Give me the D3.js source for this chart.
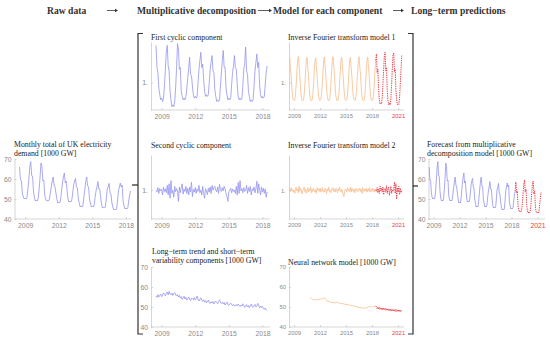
<!DOCTYPE html>
<html>
<head>
<meta charset="utf-8">
<script src="https://cdn.jsdelivr.net/npm/d3@7"></script>
<style>
body{margin:0;background:#fff;}
svg{display:block;}
.head{font-family:"Liberation Serif",serif;font-size:9.6px;font-weight:bold;fill:#333;}
.title{font-family:"Liberation Serif",serif;font-size:7.8px;fill:#222;}
.axis path,.axis line{stroke:#c4c4c4;stroke-width:0.7;}
.axis text{font-family:"Liberation Sans",Arial,sans-serif;fill:#8a8a8a;}
</style>
</head>
<body>
<script>
//column headers
var headTexts = ["Raw data", "Multiplicative decomposition", "Model for each component", "Long−term predictions"];

//tick labels
var yearLabels = ["2009", "2012", "2015", "2018"];
var yearLabelsFc = ["2009", "2012", "2015", "2018", "2021"];
var gwTicks = [40, 50, 60, 70];
var unitTicks = [1];

//monthly total of UK electricity demand [1000 GW], Jan 2009 - Dec 2018
var rawDemand = [
    66, 59.5, 59, 53, 51, 50, 50.5, 50, 51, 55, 60, 66,
    68.7, 62, 61, 53.5, 50.5, 49, 49.5, 49, 50.5, 55, 61, 68,
    66, 59, 59.5, 52, 50, 49, 49.5, 49, 50, 53, 56, 59,
    61, 57, 56, 53, 50, 48, 48.5, 48, 49.5, 54, 58, 61,
    63, 58, 59, 54, 50, 48.5, 49, 48.5, 49.5, 53, 57, 59,
    60.3, 56, 55.5, 50, 48, 46, 46.5, 46, 47, 51, 55, 59,
    61, 56.5, 56, 50, 48, 46, 46.5, 46, 47, 51, 54, 56,
    58.7, 55, 55, 50.5, 47, 45.5, 46, 45.5, 46, 50, 55, 56,
    57.8, 53, 52.5, 48, 46, 44.5, 45, 44.5, 45, 49, 54, 56,
    58, 56, 57, 49, 46.5, 45, 45.5, 45, 45.5, 49, 52, 54
];

//first cyclic component, Jan 2009 - Dec 2018
var cyclic1 = [
    1.22, 1.09, 1.06, 0.97, 0.93, 0.90, 0.91, 0.89, 0.91, 0.98, 1.08, 1.18,
    1.22, 1.10, 1.07, 0.95, 0.90, 0.86, 0.87, 0.86, 0.89, 0.97, 1.09, 1.23,
    1.20, 1.08, 1.09, 0.95, 0.92, 0.90, 0.91, 0.90, 0.92, 0.97, 1.03, 1.09,
    1.15, 1.05, 1.04, 0.98, 0.93, 0.91, 0.92, 0.91, 0.92, 1.00, 1.08, 1.13,
    1.18, 1.09, 1.11, 1.02, 0.95, 0.92, 0.93, 0.92, 0.93, 1.00, 1.08, 1.12,
    1.16, 1.07, 1.06, 0.96, 0.92, 0.89, 0.90, 0.89, 0.90, 0.98, 1.06, 1.13,
    1.19, 1.09, 1.09, 0.97, 0.93, 0.90, 0.91, 0.90, 0.91, 0.99, 1.06, 1.10,
    1.16, 1.09, 1.08, 0.99, 0.92, 0.90, 0.91, 0.90, 0.91, 0.98, 1.08, 1.11,
    1.21, 1.07, 1.05, 0.95, 0.92, 0.89, 0.90, 0.89, 0.90, 0.98, 1.07, 1.12,
    1.17, 1.09, 1.12, 0.98, 0.93, 0.91, 0.92, 0.91, 0.92, 0.99, 1.06, 1.10
];

//second cyclic component, Jan 2009 - Dec 2018
var cyclic2 = [
    1.000, 0.995, 1.008, 0.990, 1.005, 0.998, 1.002, 0.985, 1.010, 0.996, 1.004, 0.992,
    1.015, 0.985, 1.020, 0.975, 1.030, 0.990, 1.000, 0.978, 1.012, 0.995, 1.005, 0.998,
    0.965, 1.010, 0.992, 1.008, 1.020, 0.988, 1.004, 0.996, 1.012, 0.990, 1.006, 0.985,
    1.010, 0.995, 1.025, 0.980, 1.002, 0.994, 1.008, 0.990, 1.004, 0.996, 1.015, 0.992,
    1.000, 0.985, 1.012, 0.990, 0.975, 1.005, 0.998, 0.986, 1.006, 0.994, 1.010, 0.990,
    1.015, 1.000, 1.008, 1.012, 1.000, 0.995, 1.010, 0.990, 1.018, 1.002, 0.996, 1.008,
    0.998, 1.012, 1.004, 0.990, 0.980, 0.965, 0.995, 1.000, 1.006, 0.992, 1.004, 0.996,
    1.000, 0.990, 1.012, 0.985, 1.024, 0.990, 1.030, 0.998, 1.005, 0.992, 1.008, 0.996,
    1.000, 1.015, 0.990, 1.008, 0.996, 1.012, 0.985, 1.004, 0.998, 1.010, 0.992, 1.005,
    1.028, 0.990, 1.020, 1.000, 0.985, 1.010, 0.994, 1.006, 0.990, 1.004, 0.978, 0.995
];

//long-term trend and short-term variability [1000 GW], Jan 2009 - Dec 2018
var trend = [
    55.5, 54.8, 56.2, 55.0, 55.8, 56.5, 55.2, 56.0, 57.0, 56.3, 55.5, 56.8,
    57.5, 56.0, 57.8, 56.5, 56.2, 57.0, 55.8, 56.6, 57.2, 56.0, 55.5, 56.3,
    55.0, 55.8, 54.5, 55.2, 53.8, 54.6, 55.4, 54.0, 54.8, 53.5, 54.2, 54.9,
    54.0, 53.2, 54.5, 54.0, 53.6, 54.8, 53.5, 54.2, 55.5, 54.0, 53.0, 53.8,
    54.6, 53.4, 52.8, 53.6, 52.5, 53.2, 52.0, 52.8, 53.5, 52.2, 51.8, 52.6,
    52.0, 52.8, 51.5, 52.4, 53.0, 52.2, 51.6, 52.5, 53.6, 52.8, 51.8, 52.3,
    51.5, 52.2, 51.0, 51.8, 52.5, 51.2, 50.8, 51.6, 52.0, 51.2, 50.6, 51.4,
    51.0, 50.4, 51.2, 50.6, 51.5, 50.8, 50.2, 51.0, 50.5, 51.6, 50.8, 49.8,
    50.6, 51.2, 50.0, 50.8, 49.6, 50.4, 51.5, 50.2, 49.8, 50.6, 51.3, 50.0,
    50.5, 51.8, 50.8, 49.6, 50.5, 49.8, 50.4, 49.2, 48.8, 49.5, 48.6, 48.2
];

//inverse Fourier transform model 1: fit Jan 2009 - Dec 2018, forecast Jan 2019 - Dec 2021
var fourier1Fit = [
    1.150, 1.090, 1.040, 0.970, 0.920, 0.900, 0.895, 0.900, 0.930, 0.990, 1.070, 1.130,
    1.155, 1.100, 1.045, 0.970, 0.920, 0.898, 0.893, 0.900, 0.928, 0.990, 1.070, 1.135,
    1.150, 1.095, 1.040, 0.968, 0.918, 0.897, 0.894, 0.899, 0.930, 0.992, 1.068, 1.130,
    1.148, 1.090, 1.038, 0.970, 0.921, 0.900, 0.896, 0.901, 0.931, 0.990, 1.066, 1.128,
    1.152, 1.094, 1.042, 0.972, 0.920, 0.899, 0.894, 0.900, 0.929, 0.991, 1.070, 1.133,
    1.154, 1.097, 1.044, 0.969, 0.919, 0.898, 0.893, 0.899, 0.930, 0.990, 1.069, 1.134,
    1.150, 1.092, 1.040, 0.970, 0.920, 0.900, 0.895, 0.900, 0.930, 0.990, 1.067, 1.130,
    1.149, 1.091, 1.039, 0.971, 0.921, 0.900, 0.896, 0.900, 0.931, 0.992, 1.068, 1.131,
    1.153, 1.095, 1.043, 0.970, 0.920, 0.899, 0.894, 0.899, 0.929, 0.990, 1.070, 1.133,
    1.151, 1.093, 1.041, 0.969, 0.919, 0.898, 0.895, 0.900, 0.930, 0.991, 1.069, 1.132
];
var fourier1Fc = [
    1.170, 1.060, 1.080, 0.960, 0.900, 0.875, 0.880, 0.875, 0.910, 0.990, 1.080, 1.160,
    1.180, 1.070, 1.090, 0.950, 0.895, 0.870, 0.880, 0.870, 0.905, 0.985, 1.085, 1.165,
    1.175, 1.065, 1.080, 0.955, 0.900, 0.872, 0.878, 0.873, 0.910, 0.990, 1.080, 1.160
];

//inverse Fourier transform model 2
var fourier2Fit = [
    1.004, 0.996, 1.008, 0.998, 1.002, 0.994, 1.000, 0.990, 1.006, 1.010, 0.998, 1.004,
    0.992, 1.012, 0.996, 1.006, 1.000, 0.988, 0.998, 1.004, 1.010, 0.996, 1.002, 0.990,
    1.000, 1.008, 0.994, 1.004, 0.998, 1.010, 0.992, 1.002, 0.996, 1.006, 1.000, 0.994,
    1.002, 0.990, 1.008, 1.000, 1.004, 0.996, 1.006, 0.994, 1.002, 1.008, 0.996, 1.000,
    0.994, 1.006, 1.000, 0.990, 1.004, 0.998, 1.010, 0.996, 1.000, 0.992, 1.004, 1.002,
    1.008, 0.996, 1.002, 0.994, 1.006, 1.000, 0.992, 1.004, 0.998, 1.010, 1.000, 0.994,
    1.002, 0.998, 0.986, 0.980, 0.996, 1.004, 1.000, 0.994, 1.008, 0.998, 1.002, 0.996,
    1.010, 0.994, 1.006, 1.000, 0.996, 1.004, 0.992, 1.002, 1.006, 0.998, 0.994, 1.004,
    1.000, 1.006, 0.996, 1.002, 0.990, 1.008, 1.000, 0.996, 1.004, 0.998, 1.006, 0.994,
    1.002, 0.998, 1.008, 0.994, 1.000, 1.004, 0.996, 1.006, 1.000, 0.994, 1.004, 1.000
];
var fourier2Fc = [
    0.996, 1.008, 0.992, 1.004, 0.990, 1.012, 0.998, 1.006, 0.994, 1.010, 0.986, 1.002,
    1.006, 0.994, 1.014, 0.990, 1.004, 1.010, 0.984, 0.998, 1.012, 0.990, 1.002, 0.996,
    1.004, 1.026, 0.990, 1.020, 0.972, 1.008, 0.994, 1.012, 0.986, 1.006, 0.992, 1.000
];

//neural network model [1000 GW]: fit May 2011 - Dec 2018, forecast Jan 2019 - Dec 2021
var nnFit = [
    55.0, 54.6, 54.2, 53.8, 53.6, 53.9, 53.5, 53.7,
    53.4, 53.8, 53.5, 53.9, 53.6, 54.0, 53.7, 54.1, 53.8, 54.3, 54.0, 54.4,
    54.6, 54.2, 53.8, 53.5, 53.0, 52.6, 52.9, 52.4, 52.7, 52.2, 52.5, 52.1,
    52.4, 52.0, 52.3, 51.9, 52.2, 52.5, 52.1, 52.4, 52.0, 51.7, 52.0, 51.6,
    51.9, 51.5, 51.8, 51.3, 51.6, 51.2, 51.5, 51.0, 51.3, 50.9, 51.2, 50.8,
    51.0, 50.6, 50.9, 50.5, 50.8, 50.3, 50.6, 50.1, 50.4, 49.9, 50.2, 49.7,
    50.0, 49.6, 49.8, 49.4, 49.7, 49.3, 49.6, 49.2, 49.5, 49.8, 49.4, 49.7,
    49.9, 50.2, 49.8, 50.1, 50.4, 50.0, 50.3, 49.9, 50.2, 50.5, 50.1, 50.4
];
var nnFc = [
    50.2, 49.2, 50.0, 49.0, 49.8, 48.8, 49.6, 48.7, 49.5, 48.6, 49.4, 48.5,
    49.3, 48.4, 49.2, 48.3, 49.1, 48.2, 49.0, 48.1, 48.9, 48.0, 48.8, 48.0,
    48.8, 47.9, 48.7, 47.8, 48.6, 47.8, 48.6, 47.7, 48.5, 47.7, 48.4, 47.6
];

//forecast from multiplicative decomposition model [1000 GW], Jan 2019 - Dec 2021
var demandFc = [
    58.5, 53, 54, 47, 44.5, 43.5, 44, 43.5, 44.5, 48, 53, 57.5,
    59.5, 53.5, 55, 47, 44, 43, 43.5, 43, 44, 48, 53, 58,
    59, 52.5, 54, 46.5, 43.5, 43, 43.5, 43, 44, 47.5, 51, 53.5
];

var blue = "#9494ef",
    orange = "#f7bd8c",
    red = "#ea3c45";

var svg = d3.select("body")
    .append("svg")
    .attr("width", 550)
    .attr("height", 344);

//attach a time (in years) to each monthly value
function monthly(startYear, startMonth, values){
    return values.map(function(v, i){
        return {t: startYear + (startMonth + i) / 12, v: v};
    });
};

//forecast line starts from last fitted point
function joinOn(base, next){
    return [base[base.length - 1]].concat(next);
};

var demandData = monthly(2009, 0, rawDemand);
var f1Data = monthly(2009, 0, fourier1Fit);
var f2Data = monthly(2009, 0, fourier2Fit);
var nnData = monthly(2011, 4, nnFit);

//panel layouts
var panels = [
    {left: 14.5, right: 131.5, x0: 2008.55, x1: 2019.0, top: 159, bottom: 219,
     yDomain: [40, 70], yTicks: gwTicks, years: yearLabels, fs: 6.8,
     title: ["Monthly total of UK electricity", "demand [1000 GW]"], tx: 14, ty: 146.5,
     series: [{data: demandData, color: blue}]},
    {left: 151, right: 270, x0: 2008.55, x1: 2019.175, top: 42, bottom: 110,
     yDomain: [0.84, 1.24], yTicks: unitTicks, years: yearLabels, fs: 6.8,
     title: ["First cyclic component"], tx: 151, ty: 39.5,
     series: [{data: monthly(2009, 0, cyclic1), color: blue}]},
    {left: 151, right: 270, x0: 2008.55, x1: 2019.175, top: 155, bottom: 219,
     yDomain: [0.91, 1.11], yTicks: unitTicks, years: yearLabels, fs: 6.8,
     title: ["Second cyclic component"], tx: 151, ty: 147.5,
     series: [{data: monthly(2009, 0, cyclic2), color: blue}]},
    {left: 151, right: 270, x0: 2008.55, x1: 2019.175, top: 267, bottom: 327,
     yDomain: [40, 70], yTicks: gwTicks, years: yearLabels, fs: 6.8,
     title: ["Long−term trend and short−term", "variability components [1000 GW]"], tx: 152, ty: 253.5,
     series: [{data: monthly(2009, 0, trend), color: blue}]},
    {left: 289, right: 404, x0: 2008.92, x1: 2022.18, top: 42, bottom: 110,
     yDomain: [0.84, 1.24], yTicks: unitTicks, years: yearLabelsFc, fs: 5.9,
     title: ["Inverse Fourier transform model 1"], tx: 288, ty: 39.5,
     series: [{data: f1Data, color: orange},
              {data: joinOn(f1Data, monthly(2019, 0, fourier1Fc)), color: red, dash: "1.3,1"}]},
    {left: 289, right: 404, x0: 2008.92, x1: 2022.18, top: 155, bottom: 219,
     yDomain: [0.91, 1.11], yTicks: unitTicks, years: yearLabelsFc, fs: 5.9,
     title: ["Inverse Fourier transform model 2"], tx: 288, ty: 147.5,
     series: [{data: f2Data, color: orange},
              {data: joinOn(f2Data, monthly(2019, 0, fourier2Fc)), color: red, dash: "1.3,1"}]},
    {left: 289, right: 404, x0: 2008.92, x1: 2022.18, top: 267, bottom: 327,
     yDomain: [40, 70], yTicks: gwTicks, years: yearLabelsFc, fs: 5.9,
     title: ["Neural network model [1000 GW]"], tx: 288, ty: 264.5,
     series: [{data: nnData, color: orange},
              {data: joinOn(nnData, monthly(2019, 0, nnFc)), color: red, dash: "1.3,0.8"}]},
    {left: 428.5, right: 545, x0: 2008.92, x1: 2022.36, top: 159, bottom: 219,
     yDomain: [40, 70], yTicks: gwTicks, years: yearLabelsFc, fs: 6.8,
     title: ["Forecast from multiplicative", "decomposition model [1000 GW]"], tx: 427, ty: 146.5,
     series: [{data: demandData, color: blue},
              {data: joinOn(demandData, monthly(2019, 0, demandFc)), color: red, dash: "1.3,1"}]}
];

panels.forEach(drawPanel);
drawFrame();

//draw one small line chart
function drawPanel(p){
    var x = d3.scaleLinear().domain([p.x0, p.x1]).range([p.left, p.right]);
    var y = d3.scaleLinear().domain(p.yDomain).range([p.bottom, p.top]);
    var g = svg.append("g");

    var yAxis = d3.axisLeft(y)
        .tickValues(p.yTicks)
        .tickFormat(function(d){ return d == 1 ? "1." : d; })
        .tickSizeInner(-2)
        .tickSizeOuter(0)
        .tickPadding(3);

    var xAxis = d3.axisBottom(x)
        .tickValues(p.years.map(function(l){ return +l + 0.5; }))
        .tickFormat(function(d){ return Math.floor(d); })
        .tickSizeInner(-2)
        .tickSizeOuter(0)
        .tickPadding(4);

    g.append("g")
        .attr("class", "axis")
        .attr("transform", "translate(" + p.left + ",0)")
        .call(yAxis)
        .selectAll("text")
        .style("font-size", p.fs + "px");

    var xg = g.append("g")
        .attr("class", "axis")
        .attr("transform", "translate(0," + p.bottom + ")")
        .call(xAxis);
    xg.selectAll("text")
        .style("font-size", p.fs + "px")
        .style("fill", function(d){ return Math.floor(d) == 2021 ? red : null; });
    xg.select(".domain").remove();
    xg.append("line")
        .attr("x1", p.left).attr("x2", p.right)
        .attr("stroke", "#c4c4c4").attr("stroke-width", 0.7);

    var line = d3.line()
        .x(function(d){ return x(d.t); })
        .y(function(d){ return y(d.v); });

    p.series.forEach(function(s){
        g.append("path")
            .datum(s.data)
            .attr("d", line)
            .attr("fill", "none")
            .attr("stroke", s.color)
            .attr("stroke-width", s.dash ? 1 : 0.8)
            .attr("stroke-dasharray", s.dash || null);
    });

    p.title.forEach(function(t, i){
        g.append("text")
            .attr("class", "title")
            .attr("x", p.tx)
            .attr("y", p.ty + i * 9.5)
            .text(t);
    });
};

//headers, arrows and brackets
function drawFrame(){
    var headX = [47, 137, 273, 411];
    svg.selectAll(".head")
        .data(headTexts)
        .enter()
        .append("text")
        .attr("class", "head")
        .attr("x", function(d, i){ return headX[i]; })
        .attr("y", 13.5)
        .text(function(d){ return d; });

    var arrows = [[107, 118], [258, 272], [393, 404]];
    arrows.forEach(function(a){
        svg.append("line")
            .attr("x1", a[0]).attr("x2", a[1] - 2)
            .attr("y1", 10.5).attr("y2", 10.5)
            .attr("stroke", "#333").attr("stroke-width", 0.8);
        svg.append("path")
            .attr("d", "M" + (a[1] - 3) + ",8.8 L" + a[1] + ",10.5 L" + (a[1] - 3) + ",12.2 Z")
            .attr("fill", "#333");
    });

    var bracket = {fill: "none", stroke: "#333", "stroke-width": 1.2};
    svg.append("path")
        .attr("d", "M143,33.5 H138 V334 H143")
        .attr("fill", bracket.fill).attr("stroke", bracket.stroke).attr("stroke-width", bracket["stroke-width"]);
    svg.append("path")
        .attr("d", "M408,33.5 H413 V334 H408")
        .attr("fill", bracket.fill).attr("stroke", bracket.stroke).attr("stroke-width", bracket["stroke-width"]);

    //connectors on the brackets
    svg.append("line")
        .attr("x1", 132).attr("x2", 138).attr("y1", 185).attr("y2", 185)
        .attr("stroke", "#333").attr("stroke-width", 1.3);
    svg.append("line")
        .attr("x1", 413).attr("x2", 418).attr("y1", 186).attr("y2", 186)
        .attr("stroke", "#333").attr("stroke-width", 1.3);
};
</script>
</body>
</html>
